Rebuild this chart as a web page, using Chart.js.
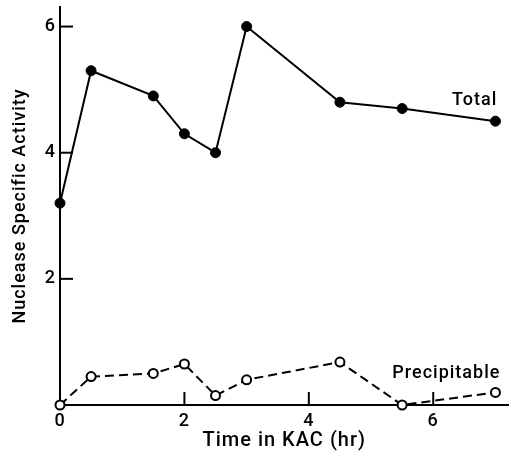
<!DOCTYPE html>
<html>
<head>
<meta charset="utf-8">
<script src="https://cdn.jsdelivr.net/npm/chart.js@4"></script>
<style>
  html, body { margin: 0; padding: 0; background: #fff; }
  #wrap { width: 515px; height: 453px; }
</style>
</head>
<body>
<div id="wrap"><canvas id="kacChart" width="515" height="453"></canvas></div>
<script>
// values
const hours = [0, 0.5, 1.5, 2, 2.5, 3, 4.5, 5.5, 7];
const totalActivity = [3.2, 5.3, 4.9, 4.3, 4.0, 6.0, 4.8, 4.7, 4.5];
const precipActivity = [0, 0.45, 0.5, 0.65, 0.15, 0.4, 0.68, 0, 0.2];
const xTicks = [0, 2, 4, 6];
const yTicks = [2, 4, 6];

const FONT = 'Roboto';

function pts(xs, ys) {
    return xs.map((x, i) => ({ x: x, y: ys[i] }));
}

function noPad(s) {
    s.paddingTop = 0;
    s.paddingBottom = 0;
    s.paddingLeft = 0;
    s.paddingRight = 0;
}

// inward tick marks + curve names
const extras = {
    id: 'extras',
    beforeDraw(chart) {
        chart.ctx.letterSpacing = '1px';
    },
    afterDraw(chart) {
        const ctx = chart.ctx;
        const xs = chart.scales.x, ys = chart.scales.y;
        const x0 = xs.getPixelForValue(0), y0 = ys.getPixelForValue(0);
        ctx.save();
        ctx.strokeStyle = '#000';
        ctx.lineWidth = 2;
        xTicks.filter(v => v > 0).forEach(v => {
            const px = xs.getPixelForValue(v);
            ctx.beginPath();
            ctx.moveTo(px, y0);
            ctx.lineTo(px, y0 - 13);
            ctx.stroke();
        });
        yTicks.forEach(v => {
            const py = ys.getPixelForValue(v);
            ctx.beginPath();
            ctx.moveTo(x0, py);
            ctx.lineTo(x0 + 13, py);
            ctx.stroke();
        });

        ctx.fillStyle = '#000';
        ctx.font = '500 18px ' + FONT;
        ctx.letterSpacing = '1px';
        ctx.textAlign = 'right';
        ctx.textBaseline = 'alphabetic';
        ctx.fillText('Total', xs.getPixelForValue(7.03), ys.getPixelForValue(4.76));
        ctx.fillText('Precipitable', xs.getPixelForValue(7.08), ys.getPixelForValue(0.43));
        ctx.restore();
    }
};

new Chart(document.getElementById('kacChart'), {
    type: 'scatter',
    data: {
        datasets: [{
            label: 'Total',
            data: pts(hours, totalActivity),
            showLine: true,
            borderColor: '#000',
            borderWidth: 2,
            pointRadius: 5,
            pointBorderWidth: 1,
            pointBackgroundColor: '#000',
            pointBorderColor: '#000',
            clip: false
        }, {
            label: 'Precipitable',
            data: pts(hours, precipActivity),
            showLine: true,
            borderColor: '#000',
            borderWidth: 2,
            borderDash: [9, 5],
            pointRadius: 4.5,
            pointBorderWidth: 2,
            pointBackgroundColor: '#fff',
            pointBorderColor: '#000',
            clip: false
        }]
    },
    options: {
        responsive: false,
        animation: false,
        layout: { padding: { top: 7, right: 0, left: 0, bottom: 0 } },
        plugins: {
            legend: { display: false },
            tooltip: { enabled: false }
        },
        scales: {
            x: {
                type: 'linear',
                min: 0,
                max: 7.21,
                grid: { display: false, drawTicks: false },
                border: { display: true, color: '#000', width: 2 },
                ticks: {
                    stepSize: 2,
                    includeBounds: false,
                    padding: 6,
                    color: '#000',
                    font: { family: FONT, size: 18, weight: '500' },
                    callback: v => xTicks.includes(v) ? String(v) : ''
                },
                title: {
                    display: true,
                    text: 'Time in KAC (hr)',
                    color: '#000',
                    font: { family: FONT, size: 20, weight: '500' },
                    padding: { top: 0, bottom: 0 }
                },
                afterFit: s => { s.height = 48; noPad(s); }
            },
            y: {
                min: 0,
                max: 6.31,
                grid: { display: false, drawTicks: false },
                border: { display: true, color: '#000', width: 2 },
                ticks: {
                    stepSize: 2,
                    includeBounds: false,
                    padding: 4,
                    color: '#000',
                    font: { family: FONT, size: 18, weight: '500' },
                    callback: v => yTicks.includes(v) ? String(v) : ''
                },
                title: {
                    display: true,
                    text: 'Nuclease Specific Activity',
                    color: '#000',
                    font: { family: FONT, size: 18, weight: '500' },
                    padding: { top: 10, bottom: 0 }
                },
                afterFit: s => { s.width = 60; noPad(s); }
            }
        }
    },
    plugins: [extras]
});
</script>
</body>
</html>
